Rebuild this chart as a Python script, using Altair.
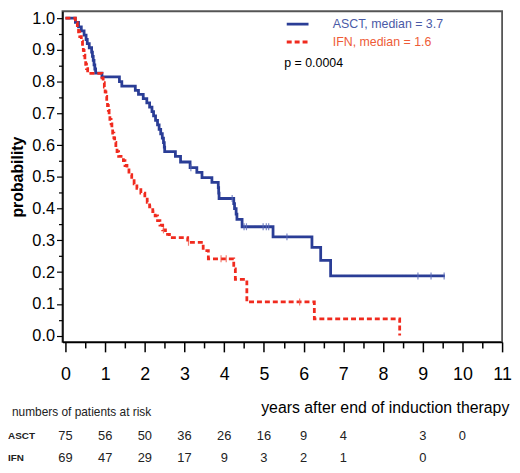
import altair as alt
import pandas as pd

# Kaplan-Meier steps: time (years) and survival after each step
asct_t = [0, 0.25, 0.33, 0.40, 0.47, 0.52, 0.55, 0.60, 0.66, 0.68, 0.70, 0.72, 0.74, 0.76,
          0.92, 1.36, 1.42, 1.76, 1.84, 1.96, 2.05, 2.12, 2.18, 2.22, 2.27, 2.32, 2.36, 2.40,
          2.44, 2.47, 2.49, 2.50, 2.77, 2.90, 3.14, 3.31, 3.44, 3.69, 3.85, 3.86, 3.87,
          4.24, 4.26, 4.30, 4.32, 4.45, 5.23, 6.21, 6.43, 6.68, 9.56]
asct_s = [1.0, 0.987, 0.973, 0.96, 0.947, 0.933, 0.92, 0.907, 0.893, 0.88, 0.867, 0.853, 0.84, 0.827,
          0.815, 0.80, 0.786, 0.773, 0.76, 0.747, 0.733, 0.72, 0.706, 0.692, 0.678, 0.664, 0.65, 0.636,
          0.622, 0.608, 0.594, 0.58, 0.565, 0.547, 0.529, 0.514, 0.498, 0.483, 0.466, 0.449, 0.432,
          0.416, 0.40, 0.383, 0.366, 0.343, 0.311, 0.278, 0.237, 0.188, 0.188]

ifn_t = [0, 0.25, 0.30, 0.33, 0.36, 0.40, 0.43, 0.45, 0.47, 0.49, 0.51, 0.53, 0.56,
         0.92, 0.95, 0.98, 1.00, 1.02, 1.04, 1.06, 1.08, 1.10, 1.12, 1.15, 1.17, 1.19, 1.22, 1.24, 1.27, 1.30, 1.34,
         1.46, 1.50, 1.55, 1.60, 1.67, 1.73, 1.80, 1.90, 2.00, 2.06, 2.12, 2.20, 2.26, 2.32, 2.38, 2.45, 2.52,
         2.62, 3.08, 3.47, 3.60, 4.24, 4.28, 4.57, 6.27, 8.42]
ifn_s = [1.0, 0.986, 0.971, 0.957, 0.942, 0.928, 0.913, 0.899, 0.884, 0.870, 0.855, 0.841, 0.826,
         0.812, 0.797, 0.783, 0.768, 0.754, 0.739, 0.725, 0.710, 0.696, 0.681, 0.667, 0.652, 0.638, 0.623, 0.609, 0.594, 0.580, 0.565,
         0.551, 0.536, 0.522, 0.507, 0.493, 0.478, 0.464, 0.449, 0.435, 0.420, 0.406, 0.391, 0.377, 0.362, 0.348, 0.333, 0.319,
         0.309, 0.294, 0.268, 0.242, 0.21, 0.177, 0.106, 0.053, 0.0]

# censored observations (small vertical ticks)
asct_cens_t = [3.16, 4.20, 4.50, 4.56, 4.98, 5.06, 5.12, 5.58, 8.88, 9.21, 9.54]
asct_cens_s = [0.529, 0.432, 0.343, 0.343, 0.343, 0.343, 0.343, 0.311, 0.188, 0.188, 0.188]
ifn_cens_t = [2.47, 3.10, 3.92, 4.05, 5.90]
ifn_cens_s = [0.333, 0.294, 0.242, 0.242, 0.106]

groups = ["ASCT", "IFN"]
medians = [3.7, 1.6]
p_value = "p = 0.0004"

# numbers of patients at risk
asct_risk_years = [0, 1, 2, 3, 4, 5, 6, 7, 9, 10]
asct_risk = [75, 56, 50, 36, 26, 16, 9, 4, 3, 0]
ifn_risk_years = [0, 1, 2, 3, 4, 5, 6, 7, 9]
ifn_risk = [69, 47, 29, 17, 9, 3, 2, 1, 0]

names = [f"{g}, median = {m}" for g, m in zip(groups, medians)]
line_colors = ["#2a3d96", "#f02a1e"]
label_colors = ["#4a5aa6", "#ee5b37"]
FONT = "Liberation Sans"

km = pd.concat([
    pd.DataFrame({"t": asct_t, "s": asct_s, "group": names[0]}),
    pd.DataFrame({"t": ifn_t, "s": ifn_s, "group": names[1]}),
])
cens = pd.concat([
    pd.DataFrame({"t": asct_cens_t, "s": asct_cens_s, "group": names[0]}),
    pd.DataFrame({"t": ifn_cens_t, "s": ifn_cens_s, "group": names[1]}),
])
risk_rows = [
    pd.DataFrame({"year": asct_risk_years, "n": asct_risk, "row": groups[0]}),
    pd.DataFrame({"year": ifn_risk_years, "n": ifn_risk, "row": groups[1]}),
]

x_scale = alt.Scale(domain=[-0.075, 11], nice=False, zero=False)
y_scale = alt.Scale(domain=[-0.02, 1.022], nice=False, zero=False)

x_axis = alt.Axis(
    values=[i * 0.5 for i in range(23)],
    labelExpr="datum.value % 1 === 0 ? format(datum.value, 'd') : ''",
    tickSize={"condition": {"test": "datum.value % 1 === 0", "value": 10}, "value": 6},
    title=None, grid=False, labelOverlap=False, labelFlush=False,
    labelFont=FONT, labelFontSize=18, labelColor="black", labelPadding=14,
    domainColor="black", domainWidth=1.5, tickColor="black", tickWidth=1.5,
)
y_axis = alt.Axis(
    values=[i * 0.05 for i in range(21)],
    labelExpr="abs(datum.value * 10 - round(datum.value * 10)) < 0.001 ? format(datum.value, '.1f') : ''",
    tickSize={"condition": {"test": "abs(datum.value * 10 - round(datum.value * 10)) < 0.001", "value": 6}, "value": 4},
    title="probability", titleFont=FONT, titleFontSize=16, titleFontWeight="bold",
    titleColor="black", titlePadding=6,
    grid=False, labelOverlap=False, labelFlush=False,
    labelFont=FONT, labelFontSize=16.5, labelColor="black", labelPadding=2,
    domainColor="black", domainWidth=1.5, tickColor="black", tickWidth=1.2,
)
X = alt.X("t:Q", scale=x_scale, axis=x_axis)
Y = alt.Y("s:Q", scale=y_scale, axis=y_axis)

legend = alt.Legend(
    title=None, orient="none", legendX=225, legendY=6,
    symbolType="stroke", symbolSize=484, symbolStrokeWidth=3,
    labelFont=FONT, labelFontSize=12.5, labelOffset=23, rowPadding=4, clipHeight=14,
    labelLimit=0,
    labelColor={"expr": f"datum.label == '{names[0]}' ? '{label_colors[0]}' : '{label_colors[1]}'"},
)

lines = alt.Chart(km).mark_line(interpolate="step-after", strokeWidth=2.8).encode(
    x=X,
    y=Y,
    color=alt.Color("group:N", scale=alt.Scale(domain=names, range=line_colors), legend=legend),
    strokeDash=alt.StrokeDash("group:N", scale=alt.Scale(domain=names, range=[[1, 0], [5, 3]]), legend=legend),
)

ticks = alt.Chart(cens).mark_tick(orient="vertical", size=7, thickness=1.2, opacity=0.8).encode(
    x=X,
    y=Y,
    color=alt.condition(f"datum.group == '{names[0]}'", alt.value("#5a6ab8"), alt.value("#f05a4a")),
)


def text_layer(label, x, y, **style):
    return alt.Chart(pd.DataFrame({"label": [label]})).mark_text(
        baseline="middle", font=FONT, **style
    ).encode(x=alt.value(x), y=alt.value(y), text="label:N")


p_text = text_layer(p_value, 224, 52, align="left", fontSize=12.5, color="black")
risk_title = text_layer("numbers of patients at risk", -51, 405, align="left", fontSize=12, color="#222")
x_title = text_layer("years after end of induction therapy", 326, 401, align="center", fontSize=16, color="black")

row_y = [429, 451]
risk_layers = []
for row_df, y in zip(risk_rows, row_y):
    risk_layers.append(text_layer(row_df["row"].iloc[0], -55, y, align="left", fontSize=10,
                                  fontWeight="bold", color="#222"))
    risk_layers.append(
        alt.Chart(row_df).mark_text(
            align="center", baseline="middle", font=FONT, fontSize=13, color="#222"
        ).encode(x=alt.X("year:Q", scale=x_scale, axis=x_axis), y=alt.value(y), text="n:Q")
    )

chart = alt.layer(
    lines, ticks, p_text, risk_title, x_title, *risk_layers
).properties(
    width=444, height=334, padding=0, background="white"
).configure_view(
    stroke="#555", strokeWidth=1.8
)

chart.save("out.html", embed_options={"renderer": "svg", "actions": False})
